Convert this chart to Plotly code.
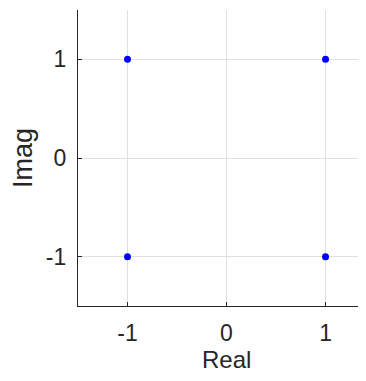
import plotly.graph_objects as go

real_vals = [-1, 1, -1, 1]
imag_vals = [1, 1, -1, -1]
tick_vals = [-1, 0, 1]
tick_text = ["-1", "0", "1"]
x_title = "Real"
y_title = "Imag"

fig = go.Figure()
fig.add_trace(go.Scatter(
    x=real_vals, y=imag_vals, mode="markers",
    marker=dict(color="#0000FF", size=7),
    showlegend=False, cliponaxis=False,
))

font = dict(family="Liberation Sans, Arial, sans-serif", color="#262626")
axis_common = dict(
    showgrid=True, gridcolor="#E0E0E0", gridwidth=1,
    zeroline=False, showline=True, linecolor="#262626", linewidth=1.3,
    ticks="inside", ticklen=4, tickcolor="#262626", tickwidth=1,
    tickvals=tick_vals, ticktext=tick_text,
    tickfont=dict(size=23, **font), mirror=False, automargin=False,
)

fig.update_layout(
    width=350, height=365,
    margin=dict(l=70, r=0, t=2, b=67),
    paper_bgcolor="white", plot_bgcolor="white",
    xaxis=dict(range=[-1.5, 1.328], ticklabelstandoff=6, **axis_common),
    yaxis=dict(range=[-1.5, 1.5], ticklabelstandoff=6,
               title=dict(text=y_title, font=dict(size=27, **font), standoff=10), **axis_common),
    annotations=[dict(
        text=x_title, x=0, xref="x", y=-0.18, yref="paper",
        xanchor="center", yanchor="middle", showarrow=False, borderpad=0,
        height=26, valign="middle",
        font=dict(size=24, **font),
    )],
)

fig.write_html("out.html")
